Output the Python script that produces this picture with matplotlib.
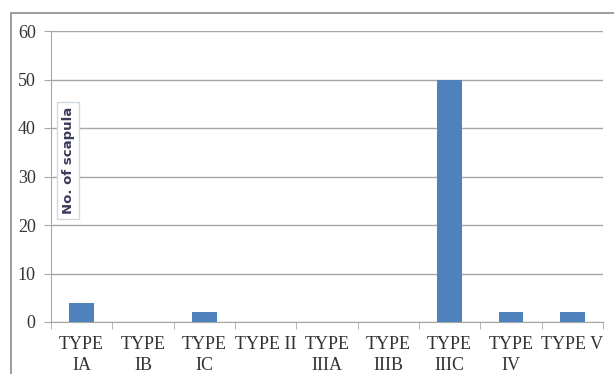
import matplotlib.pyplot as plt
import numpy as np
from matplotlib.patches import Rectangle

types = ["TYPE\nIA", "TYPE\nIB", "TYPE\nIC", "TYPE II", "TYPE\nIIIA",
         "TYPE\nIIIB", "TYPE\nIIIC", "TYPE\nIV", "TYPE V"]
counts = [4, 0, 2, 0, 0, 0, 50, 2, 2]
yticks = [0, 10, 20, 30, 40, 50, 60]

fig = plt.figure(figsize=(6.14, 3.74), dpi=100)
ax = fig.add_axes([51 / 614, 1 - 322 / 374, 552 / 614, 291 / 374])

# outer chart frame
fig.patches.append(Rectangle((11 / 614, -0.2), 1.2, 1 - 13 / 374 + 0.2,
                             transform=fig.transFigure, fill=False,
                             edgecolor="#8c8c8c", linewidth=1.2))

x = np.arange(len(types))
ax.bar(x, counts, width=0.4, color="#4f81bd", zorder=3)

ax.set_xlim(-0.5, len(types) - 0.5)
ax.set_ylim(0, 60)
ax.set_yticks(yticks)
ax.yaxis.grid(True, color="#a6a6a6", linewidth=1)
ax.set_axisbelow(True)

for side in ["top", "right"]:
    ax.spines[side].set_visible(False)
ax.spines["left"].set_color("#a6a6a6")
ax.spines["bottom"].set_color("#a6a6a6")

serif = ["Liberation Serif", "DejaVu Serif"]
ax.set_xticks(x)
ax.set_xticklabels(types, fontfamily=serif, fontsize=13, linespacing=1.3)
ax.set_xticks(np.arange(len(types) + 1) - 0.5, minor=True)
ax.tick_params(axis="x", which="major", length=0, pad=10)
ax.tick_params(axis="x", which="minor", length=5, color="#a6a6a6")
ax.tick_params(axis="y", length=5, color="#a6a6a6", pad=6)
for lbl in ax.get_yticklabels():
    lbl.set_fontfamily(serif)
    lbl.set_fontsize(13)
    lbl.set_color("#333333")
for lbl in ax.get_xticklabels():
    lbl.set_color("#333333")

ax.text(0.031, 0.555, "No. of scapula", transform=ax.transAxes, rotation=90,
        ha="center", va="center", fontsize=9.5, fontweight="bold",
        color="#3a3a5a", zorder=4,
        bbox=dict(boxstyle="square,pad=0.35", facecolor="white",
                  edgecolor="#d0d8e0", linewidth=1))

fig.savefig("out.png", dpi=100)
